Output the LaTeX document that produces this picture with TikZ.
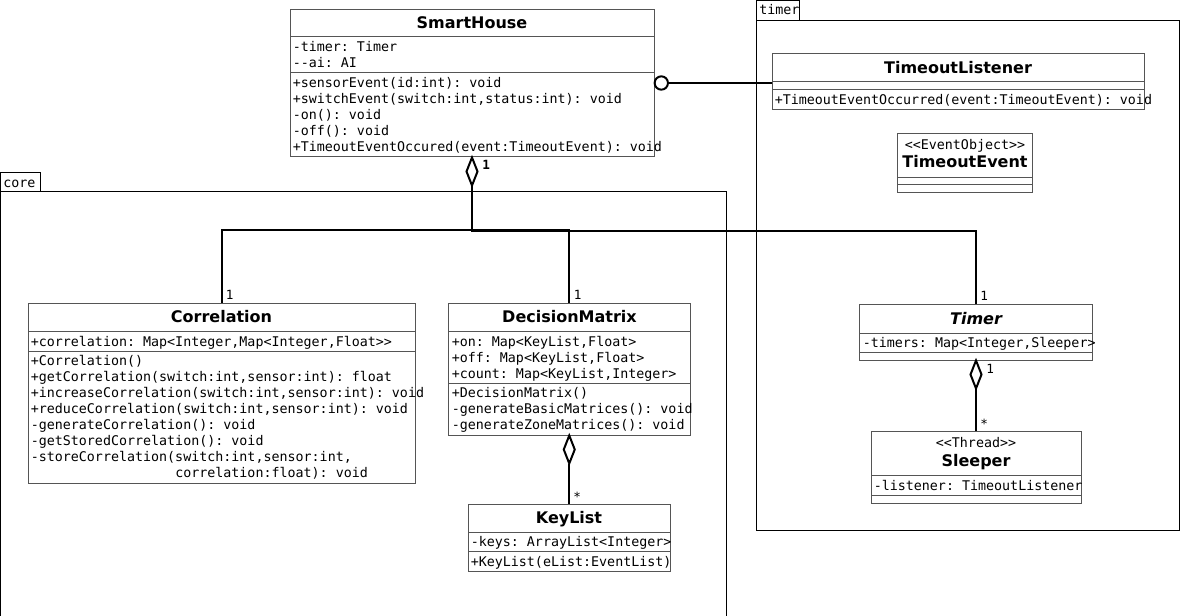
\documentclass[tikz,border=0pt]{standalone}
\usepackage{fontspec}
\setmainfont{DejaVu Sans}
\setmonofont{DejaVu Sans Mono}
\usetikzlibrary{fit}
\definecolor{clsline}{RGB}{85,85,85}
\tikzset{
  clsbox/.style={draw=clsline, line width=0.75pt, inner sep=0pt, fill=white},
  sep/.style={draw=clsline, line width=0.75pt},
  pkgbox/.style={draw=black, line width=0.75pt, inner sep=0pt},
  txt/.style={anchor=base west, inner sep=0pt, font=\ttfamily\fontsize{10}{12}\selectfont},
  stereo/.style={anchor=base, inner sep=0pt, font=\ttfamily\fontsize{10}{12}\selectfont},
  ttl/.style={anchor=base, inner sep=0pt, font=\bfseries\fontsize{12}{14}\selectfont},
  mult/.style={anchor=base west, inner sep=0pt, font=\ttfamily\fontsize{9.5}{11}\selectfont},
  conn/.style={draw=black, line width=1.5pt},
  agg/.style={draw=black, line width=1.5pt, fill=white, line join=miter},
}
\newcommand\clines[4]{\foreach \ltext [count=\i] in {#4}{\node[txt] (#1\i) at ({#2+1.5},{#3+1+16*(\i-1)}) {\ltext};}}
\begin{document}
\begin{tikzpicture}[x=0.75pt,y=-0.75pt]
\useasboundingbox (0,0) rectangle (1180,616);

% packages
\node[pkgbox, fit={(0.5,192) (726,620)}] (core) {};
\node[pkgbox, fit={(0.5,172.5) (40.5,192)}] (coretab) {};
\node[txt] (corelbl) at (3,187.2) {core};
\node[pkgbox, fit={(756,20.5) (1179.5,530)}] (timerpkg) {};
\node[pkgbox, fit={(756,0.5) (799,20.5)}] (timertab) {};
\node[txt] (timerlbl) at (759,15) {timer};

% SmartHouse
\node[clsbox, fit={(290,9.5) (654,157)}] (sh) {};
\draw[sep] (290,37) -- (654,37) (290,72.5) -- (654,72.5);
\node[ttl] (shname) at (472,28.5) {SmartHouse};
\clines{sha}{291}{51}{{-timer: Timer},{--ai: AI}}
\clines{shm}{291}{86.5}{{+sensorEvent(id:int): void},{+switchEvent(switch:int,status:int): void},{-on(): void},{-off(): void},{+TimeoutEventOccured(event:TimeoutEvent): void}}

% TimeoutListener
\node[clsbox, fit={(772,54) (1144,110)}] (tl) {};
\draw[sep] (772,82) -- (1144,82) (772,89.5) -- (1144,89.5);
\node[ttl] (tlname) at (958,73.5) {TimeoutListener};
\clines{tlm}{773}{103.5}{{+TimeoutEventOccurred(event:TimeoutEvent): void}}

% TimeoutEvent
\node[clsbox, fit={(897.5,133.5) (1032.5,193)}] (te) {};
\draw[sep] (897.5,177.5) -- (1032.5,177.5) (897.5,185) -- (1032.5,185);
\node[stereo] (testereo) at (965,149.5) {<<EventObject>>};
\node[ttl] (tename) at (965,167.5) {TimeoutEvent};

% Correlation
\node[clsbox, fit={(28,303.5) (415,483)}] (corr) {};
\draw[sep] (28,331.5) -- (415,331.5) (28,351) -- (415,351);
\node[ttl] (corrname) at (221.5,322.5) {Correlation};
\clines{corra}{29}{345.5}{{+correlation: Map<Integer,Map<Integer,Float>>}}
\clines{corrm}{29}{364.5}{{+Correlation()},{+getCorrelation(switch:int,sensor:int): float},{+increaseCorrelation(switch:int,sensor:int): void},{+reduceCorrelation(switch:int,sensor:int): void},{-generateCorrelation(): void},{-getStoredCorrelation(): void},{-storeCorrelation(switch:int,sensor:int,},{\phantom{-storeCorrelation(}correlation:float): void}}

% DecisionMatrix
\node[clsbox, fit={(448.5,303.5) (690,435)}] (dm) {};
\draw[sep] (448.5,331.5) -- (690,331.5) (448.5,383.5) -- (690,383.5);
\node[ttl] (dmname) at (569.5,322.5) {DecisionMatrix};
\clines{dma}{450}{345}{{+on: Map<KeyList,Float>},{+off: Map<KeyList,Float>},{+count: Map<KeyList,Integer>}}
\clines{dmm}{450}{396.5}{{+DecisionMatrix()},{-generateBasicMatrices(): void},{-generateZoneMatrices(): void}}

% KeyList
\node[clsbox, fit={(468,504) (670,571.5)}] (kl) {};
\draw[sep] (468,532) -- (670,532) (468,551.5) -- (670,551.5);
\node[ttl] (klname) at (569,523.5) {KeyList};
\clines{kla}{469}{545.5}{{-keys: ArrayList<Integer>}}
\clines{klm}{469}{565.5}{{+KeyList(eList:EventList)}}

% Timer
\node[clsbox, fit={(859.5,305) (1092.5,360)}] (tmr) {};
\draw[sep] (859.5,333) -- (1092.5,333) (859.5,352.5) -- (1092.5,352.5);
\node[ttl, font=\bfseries\itshape\fontsize{12}{14}\selectfont] (tmrname) at (976,324.5) {Timer};
\clines{tmra}{861}{346.5}{{-timers: Map<Integer,Sleeper>}}

% Sleeper
\node[clsbox, fit={(871,431) (1081,503)}] (slp) {};
\draw[sep] (871,475) -- (1081,475) (871,495) -- (1081,495);
\node[stereo] (slpstereo) at (976,447.2) {<<Thread>>};
\node[ttl] (slpname) at (976,466) {Sleeper};
\clines{slpa}{872}{489.5}{{-listener: TimeoutListener}}

% connectors
\draw[agg] (sh.south) -- ++(5.5,14) -- ++(-5.5,14) coordinate (shd) -- ++(-5.5,-14) -- cycle;
\coordinate (j1) at (472,230);
\coordinate (j2) at (472,231);
\draw[conn] (shd) -- (j1) -| (corr.north);
\draw[conn] (j1) -| (dm.north);
\draw[conn] (shd) -- (j2) -| (tmr.north);
\node[mult, font=\ttfamily\bfseries\fontsize{9.5}{11}\selectfont] (m1) at (482,170) {1};
\node[mult] (m2) at (225.5,299.5) {1};
\node[mult] (m3) at (573.5,299.5) {1};
\node[mult] (m4) at (980,300.5) {1};

\draw[agg] (dm.south) -- ++(5.5,14) -- ++(-5.5,14) coordinate (dmd) -- ++(-5.5,-14) -- cycle;
\draw[conn] (dmd) -- (dmd |- kl.north);
\node[mult] (m5) at (573,501) {*};

\draw[agg] (tmr.south) -- ++(5.5,14) -- ++(-5.5,14) coordinate (tmrd) -- ++(-5.5,-14) -- cycle;
\draw[conn] (tmrd) -- (tmrd |- slp.north);
\node[mult] (m6) at (986,373) {1};
\node[mult] (m7) at (980,428.5) {*};

\node[circle, draw=black, line width=1.5pt, fill=white, minimum size=10pt, inner sep=0pt] (lol) at (661.3,83) {};
\draw[conn] (lol.east) -- (lol.east -| tl.west);
\end{tikzpicture}
\end{document}
